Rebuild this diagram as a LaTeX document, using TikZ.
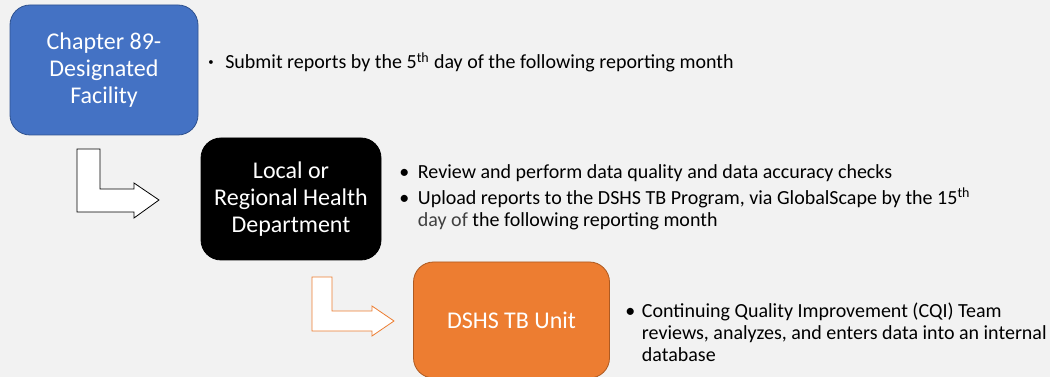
\documentclass[tikz,border=0pt]{standalone}
\usepackage{fontspec}
\setmainfont{Carlito}
\definecolor{pagebg}{HTML}{F2F2F2}
\definecolor{facblue}{HTML}{4472C4}
\definecolor{facline}{HTML}{2F528F}
\definecolor{unitorange}{HTML}{ED7D31}
\definecolor{unitline}{HTML}{AE5A21}
\definecolor{softtext}{HTML}{404040}
\newcommand{\bul}[1]{\makebox[#1][l]{\textbullet}}
\begin{document}
\begin{tikzpicture}[x=0.75pt, y=-0.75pt,
    every node/.style={font=\fontsize{15}{16.5}\selectfont, inner sep=0pt},
    stage/.style={rounded corners=15pt, align=center, text=white,
        font=\fontsize{18}{20.5}\selectfont, line width=0.6pt},
    bullets/.style={anchor=base west, align=left}]
    \fill[pagebg] (0,0) rectangle (1050,377);
    \useasboundingbox (0,0) rectangle (1050,377);
    \clip (0,0) rectangle (1050,377);
    \node[stage, fill=facblue, draw=facline, minimum width=141pt, minimum height=97.5pt]
        (facility) at (104,70) {Chapter 89-\\Designated\\Facility};
    \node[stage, fill=black, draw=black, minimum width=135pt, minimum height=91.5pt]
        (health) at (291,199) {Local or\\Regional Health\\Department};
    \node[stage, fill=unitorange, draw=unitline, minimum width=147pt, minimum height=87pt]
        (unit) at (511.5,320) {DSHS TB Unit};
    \draw[fill=white, line width=0.6pt] (77,149) -- (100,149) -- (100,189) -- (134,189)
        -- (134,183) -- (159,200) -- (134,218) -- (134,212) -- (77,212) -- cycle;
    \draw[fill=white, draw=unitorange, line width=0.6pt] (312,277) -- (332,277) -- (332,311)
        -- (372,311) -- (372,306) -- (394,321) -- (372,336) -- (372,331) -- (312,331) -- cycle;
    \node[bullets] (factext) at (208,69) {\begin{tabular}[t]{@{}l@{}l@{}}
        \makebox[12.75pt][l]{\raisebox{0.35ex}{\footnotesize\textbullet}} & Submit reports by the 5\textsuperscript{th} day of the following reporting month
    \end{tabular}};
    \node[bullets] (healthtext) at (399,179) {\begin{tabular}[t]{@{}l@{}l@{}}
        \bul{14pt} & Review and perform data quality and data accuracy checks\\[1.5pt]
        \bul{14pt} & Upload reports to the DSHS TB Program, via GlobalScape by the 15\textsuperscript{th}\\
        & {\color{softtext}day of} the following reporting month
    \end{tabular}};
    \node[bullets] (unittext) at (625,318) {\begin{tabular}[t]{@{}l@{}l@{}}
        \bul{12.5pt} & Continuing Quality Improvement (CQI) Team\\
        & reviews, analyzes, and enters data into an internal\\
        & database
    \end{tabular}};
\end{tikzpicture}
\end{document}
